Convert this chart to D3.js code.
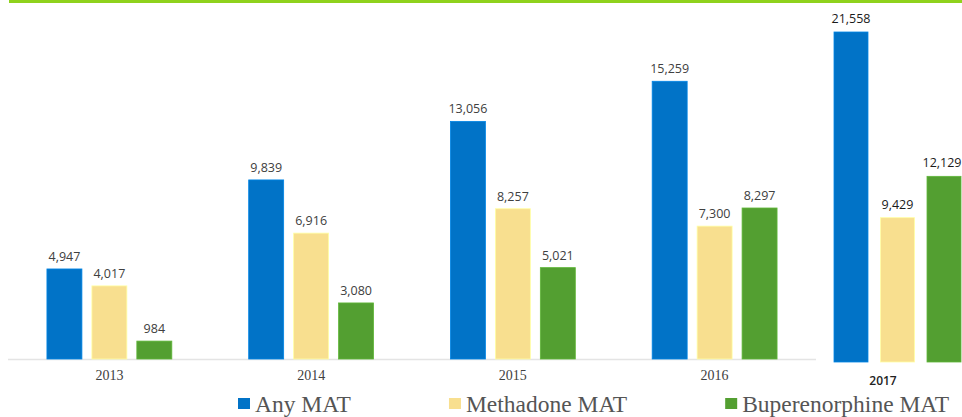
<!DOCTYPE html>
<html>
<head>
<meta charset="utf-8">
<script src="https://cdn.jsdelivr.net/npm/d3@7"></script>
<style>
  html, body { margin: 0; padding: 0; background: #fff; }
  svg { display: block; }
</style>
</head>
<body>
<svg id="chart" width="962" height="417"></svg>
<script>
// ---- data ----
const years = ["2013", "2014", "2015", "2016"];
const seriesNames = ["Any MAT", "Methadone MAT", "Buperenorphine MAT"];
const anyMAT = [4947, 9839, 13056, 15259];
const methadoneMAT = [4017, 6916, 8257, 7300];
const buprenorphineMAT = [984, 3080, 5021, 8297];
const lastYear = "2017";
const lastYearValues = [21558, 9429, 12129];
const colors = ["#0173c7", "#f8df8f", "#539f31"];

const svg = d3.select("#chart");
const fmt = d3.format(",");
const seriesValues = [anyMAT, methadoneMAT, buprenorphineMAT];

// top accent line
svg.append("rect").attr("x", 9).attr("y", 0).attr("width", 953).attr("height", 3).attr("fill", "#8fd21c");

// ---- main panel (2013-2016) ----
const baseY = 359;
const x0 = d3.scaleBand().domain(years).range([8, 816]).paddingInner(0.381).paddingOuter(0.193);
const x1 = d3.scaleBand().domain(seriesNames).range([0, x0.bandwidth()]).paddingInner(0.222).paddingOuter(0);
const y = d3.scaleLinear().domain([0, 15000]).range([baseY, baseY - 273]);

// baseline
svg.append("line").attr("x1", 8).attr("x2", 816).attr("y1", baseY + 0.5).attr("y2", baseY + 0.5)
  .attr("stroke", "#e4e4e4").attr("stroke-width", 1.5);

const rows = years.map((yr, i) => ({ yr, vals: seriesNames.map((s, j) => ({ s, j, v: seriesValues[j][i] })) }));
const g = svg.selectAll("g.grp").data(rows).join("g").attr("class", "grp")
  .attr("transform", d => `translate(${x0(d.yr)},0)`);

g.selectAll("rect").data(d => d.vals).join("rect")
  .attr("x", d => x1(d.s)).attr("width", x1.bandwidth())
  .attr("y", d => y(d.v)).attr("height", d => baseY - y(d.v))
  .attr("fill", d => colors[d.j])
  .attr("stroke", d => d3.color(colors[d.j]).brighter(0.4)).attr("stroke-width", 0.8);

g.selectAll("text.val").data(d => d.vals).join("text").attr("class", "val")
  .attr("x", d => x1(d.s) + x1.bandwidth() / 2).attr("y", d => y(d.v) - 8)
  .attr("text-anchor", "middle").attr("font-family", "Open Sans, sans-serif").attr("font-size", 12.5)
  .attr("fill", "#404040").text(d => fmt(d.v));

svg.selectAll("text.cat").data(years).join("text").attr("class", "cat")
  .attr("x", d => x0(d) + x0.bandwidth() / 2).attr("y", 380)
  .attr("text-anchor", "middle").attr("font-family", "Liberation Serif, serif").attr("font-size", 14)
  .attr("fill", "#404040").text(d => d);

// ---- 2017 inset ----
const base2 = 362;
const xb = d3.scaleBand().domain(seriesNames).range([834, 961]).paddingInner(0.269).paddingOuter(0);
const y2 = d3.scaleLinear().domain([0, 21558]).range([base2, base2 - 330]);
const last = seriesNames.map((s, j) => ({ s, j, v: lastYearValues[j] }));

svg.selectAll("rect.last").data(last).join("rect").attr("class", "last")
  .attr("x", d => xb(d.s)).attr("width", xb.bandwidth())
  .attr("y", d => y2(d.v)).attr("height", d => base2 - y2(d.v))
  .attr("fill", d => colors[d.j])
  .attr("stroke", d => d3.color(colors[d.j]).brighter(0.4)).attr("stroke-width", 0.8);

svg.selectAll("text.lastval").data(last).join("text").attr("class", "lastval")
  .attr("x", d => Math.min(xb(d.s) + xb.bandwidth() / 2, 942)).attr("y", d => y2(d.v) - 9)
  .attr("text-anchor", "middle").attr("font-family", "Open Sans, sans-serif").attr("font-size", 12.5)
  .attr("fill", "#1a1a1a").text(d => fmt(d.v));

svg.append("text").attr("x", 883).attr("y", 385).attr("text-anchor", "middle")
  .attr("font-family", "Open Sans, sans-serif").attr("font-size", 12).attr("font-weight", 600)
  .attr("fill", "#222").text(lastYear);

// ---- legend ----
const legend = svg.append("g");
let lx = 238;
seriesNames.forEach((s, j) => {
  const it = legend.append("g").attr("transform", `translate(${lx},0)`);
  it.append("rect").attr("x", 0).attr("y", 398).attr("width", 12).attr("height", 11).attr("fill", colors[j]);
  const t = it.append("text").attr("x", 17).attr("y", 411.5)
    .attr("font-family", "Liberation Serif, serif").attr("font-size", 23.5)
    .attr("fill", "#555").text(s);
  lx += 17 + t.node().getComputedTextLength() + 98;
});
</script>
</body>
</html>
